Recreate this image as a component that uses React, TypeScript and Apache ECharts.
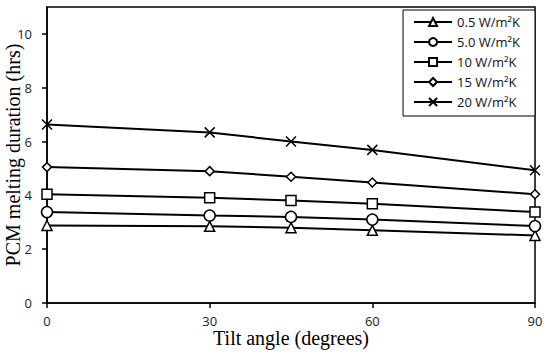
import React, { useEffect, useRef } from "react";
import * as echarts from "echarts";

const tiltAngles = [0, 30, 45, 60, 90];
const seriesNames = ["0.5 W/m²K", "5.0 W/m²K", "10 W/m²K", "15 W/m²K", "20 W/m²K"];
const h05 = [2.88, 2.85, 2.8, 2.7, 2.51];
const h5 = [3.38, 3.25, 3.2, 3.1, 2.86];
const h10 = [4.04, 3.91, 3.81, 3.69, 3.38];
const h15 = [5.05, 4.9, 4.69, 4.48, 4.04];
const h20 = [6.63, 6.34, 6.0, 5.69, 4.93];
const yTicks = [0, 2, 4, 6, 8, 10];

const symbols = ["triangle", "circle", "rect", "diamond", "path://M0,0L10,10M10,0L0,10"];
const sizes = [10, 11, 10, 9, 10];

export default function App() {
  const ref = useRef<HTMLDivElement>(null);
  useEffect(() => {
    if (!ref.current) return;
    const chart = echarts.init(ref.current, null, { renderer: "svg" });
    const all = [h05, h5, h10, h15, h20];
    chart.setOption({
      animation: false,
      backgroundColor: "#fff",
      grid: {
        left: 47,
        right: 15,
        top: 7,
        bottom: 50,
        show: true,
        borderColor: "#000",
        borderWidth: 1.5,
        containLabel: false,
        outerBoundsMode: "none",
      },
      legend: {
        orient: "vertical",
        right: 15,
        top: 10,
        backgroundColor: "#fff",
        borderColor: "#000",
        borderWidth: 1,
        borderRadius: 0,
        padding: [5, 15, 7, 10],
        itemWidth: 38,
        itemHeight: 10,
        itemGap: 6,
        textStyle: { fontFamily: "Open Sans", fontSize: 13, color: "#111", lineHeight: 14 },
        data: seriesNames,
      },
      xAxis: {
        type: "value",
        min: 0,
        max: 90,
        interval: 30,
        name: "Tilt angle (degrees)",
        nameLocation: "middle",
        nameGap: 25,
        nameMoveOverlap: false,
        nameTextStyle: { fontFamily: "Liberation Serif", fontSize: 20, color: "#000" },
        axisLine: { lineStyle: { color: "#000", width: 1.5 } },
        axisTick: { show: true, inside: false, length: 5, lineStyle: { color: "#000", width: 1.5 } },
        axisLabel: { fontFamily: "Open Sans", fontSize: 13, color: "#222", margin: 11 },
        splitLine: { show: false },
      },
      yAxis: {
        type: "value",
        min: 0,
        max: 11,
        interval: 2,
        name: "PCM melting duration (hrs)",
        nameLocation: "middle",
        nameGap: 24,
        nameMoveOverlap: false,
        nameTextStyle: { fontFamily: "Liberation Serif", fontSize: 20, color: "#000" },
        axisLine: { show: true, lineStyle: { color: "#000", width: 1.5 } },
        axisTick: { show: true, inside: false, length: 5, lineStyle: { color: "#000", width: 1.5 }, customValues: yTicks },
        axisLabel: { fontFamily: "Open Sans", fontSize: 13, color: "#222", margin: 15, customValues: yTicks },
        splitLine: { show: false },
      },
      series: seriesNames.map((name, i) => ({
        name,
        type: "line",
        data: tiltAngles.map((x, j) => [x, all[i][j]]),
        symbol: symbols[i],
        symbolSize: sizes[i],
        showSymbol: true,
        lineStyle: { color: "#000", width: 2 },
        itemStyle: { color: "#fff", borderColor: "#000", borderWidth: 1.5 },
        z: 3,
      })),
    });
    return () => chart.dispose();
  }, []);
  return <div ref={ref} style={{ width: 550, height: 353, position: "absolute", left: 0, top: 0 }} />;
}
